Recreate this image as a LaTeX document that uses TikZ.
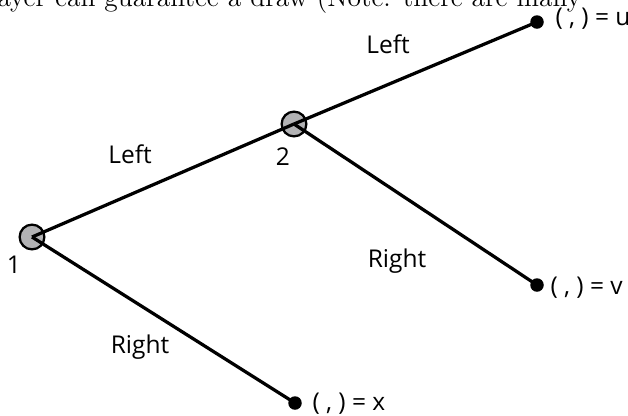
\documentclass[tikz,border=0pt]{standalone}
\usepackage{fontspec}
\newfontfamily\lblfont{Open Sans}
\definecolor{nodegray}{RGB}{178,178,180}
\begin{document}
\begin{tikzpicture}[x=0.4pt,y=-0.4pt,
  decision/.style={circle, draw=black, line width=0.9pt, fill=nodegray, minimum size=9.9pt, inner sep=0pt},
  leaf/.style={circle, fill=black, minimum size=5.4pt, inner sep=0pt},
  edge/.style={line width=1.3pt},
  lab/.style={font=\lblfont\fontsize{9.8}{12}\selectfont, inner sep=0pt}]
\useasboundingbox (0,0) rectangle (628,415);
% cut-off text line at top
\node[anchor=base west, inner sep=0pt, font=\fontsize{11}{13}\selectfont] (top) at (-3,6) {\llap{pl}ayer can guarantee a draw (Note: there are many};
% nodes
\node[decision] (n1) at (32,237) {};
\node[decision] (n2) at (294,124) {};
\node[leaf] (u) at (537,22) {};
\node[leaf] (v) at (537,285) {};
\node[leaf] (x) at (295,403) {};
% edges
\draw[edge] (n1.center) -- (n2.center);
\draw[edge] (n2.center) -- (u.center);
\draw[edge] (n2.center) -- (v.center);
\draw[edge] (n1.center) -- (x.center);
% labels
\node[lab] (l1) at (14,265) {1};
\node[lab] (l2) at (283,157) {2};
\node[lab, anchor=base] (e12) at (130,163) {Left};
\node[lab, anchor=base] (e2u) at (388,53) {Left};
\node[lab, anchor=base] (e2v) at (397,267) {Right};
\node[lab, anchor=base] (e1x) at (140,353) {Right};
\node[lab, anchor=base west] (pu) at (555,25) {( , ) = u};
\node[lab, anchor=base west] (pv) at (550,294) {( , ) = v};
\node[lab, anchor=base west] (px) at (312,410) {( , ) = x};
\end{tikzpicture}
\end{document}
